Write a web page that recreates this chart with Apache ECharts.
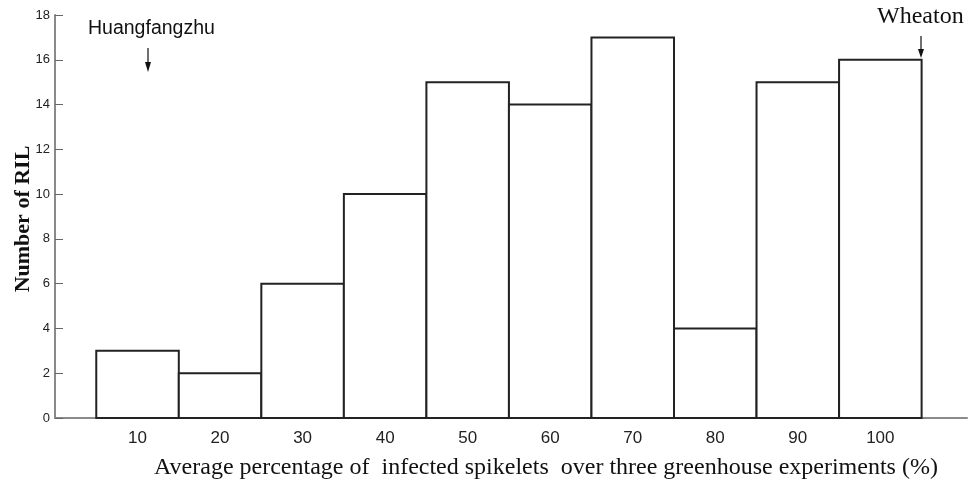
<!DOCTYPE html>
<html><head><meta charset="utf-8">
<script src="https://cdn.jsdelivr.net/npm/echarts@6/dist/echarts.min.js"></script>
<style>html,body{margin:0;padding:0;background:#fff}#c{width:969px;height:490px}</style>
</head><body><div id="c"></div>
<script>
const categories = [10, 20, 30, 40, 50, 60, 70, 80, 90, 100];
const counts = [3, 2, 6, 10, 15, 14, 17, 4, 15, 16];
const binWidth = 10;
const yTicks = [0, 2, 4, 6, 8, 10, 12, 14, 16, 18];
const yTitle = 'Number of RIL';
const xTitle = 'Average percentage of  infected spikelets  over three greenhouse experiments (%)';

const chart = echarts.init(document.getElementById('c'), null, {renderer: 'canvas'});
const data = categories.map((c, i) => [c, counts[i]]);

chart.setOption({
  backgroundColor: '#fff',
  animation: false,
  grid: {left: 55, right: 2, top: 15, bottom: 72, containLabel: false, outerBoundsMode: 'none'},
  xAxis: {
    type: 'value', min: 0, max: 110.5,
    axisLine: {show: true, lineStyle: {color: '#8a8a8a', width: 2}},
    axisTick: {show: false},
    splitLine: {show: false},
    axisLabel: {
      customValues: categories,
      color: '#222', fontFamily: 'Arial, Liberation Sans, sans-serif', fontSize: 17, margin: 12
    },
    name: xTitle,
    nameLocation: 'middle', nameGap: 38,
    nameTextStyle: {color: '#111', fontFamily: 'Liberation Serif, Times New Roman, serif', fontSize: 24, padding: [0, 0, 0, 70]}
  },
  yAxis: {
    type: 'value', min: 0, max: 18, interval: 2,
    axisLine: {show: true, lineStyle: {color: '#8a8a8a', width: 2}},
    axisTick: {show: true, inside: true, length: 8, lineStyle: {color: '#666', width: 1}},
    splitLine: {show: false},
    axisLabel: {
      color: '#222', fontFamily: 'Arial, Liberation Sans, sans-serif', fontSize: 13, margin: 5,
      formatter: v => yTicks.indexOf(v) >= 0 ? String(v) : ''
    }
  },
  series: [{
    type: 'custom',
    data: data,
    renderItem: function (params, api) {
      const x = api.value(0), y = api.value(1);
      const p0 = api.coord([x - binWidth / 2, 0]);
      const p1 = api.coord([x + binWidth / 2, y]);
      return {
        type: 'rect',
        shape: {x: p0[0], y: p1[1], width: p1[0] - p0[0], height: p0[1] - p1[1]},
        style: {fill: '#fff', stroke: '#222', lineWidth: 2}
      };
    }
  }],
  graphic: [
    {type: 'text', x: 23, y: 219, rotation: Math.PI / 2,
     style: {text: yTitle, font: 'bold 22px "Liberation Serif", "Times New Roman", serif', fill: '#111', textAlign: 'center', textVerticalAlign: 'middle'}},
    {type: 'text', left: 88, top: 19, style: {text: 'Huangfangzhu', font: '19.5px Arial, "Liberation Sans", sans-serif', fill: '#111'}},
    {type: 'line', shape: {x1: 148, y1: 48, x2: 148, y2: 68}, style: {stroke: '#111', lineWidth: 1.2}},
    {type: 'polygon', shape: {points: [[145, 62], [151, 62], [148, 72]]}, style: {fill: '#111'}},
    {type: 'text', left: 877, top: 5, style: {text: 'Wheaton', font: '24px "Liberation Serif", "Times New Roman", serif', fill: '#111'}},
    {type: 'line', shape: {x1: 921, y1: 36, x2: 921, y2: 54}, style: {stroke: '#111', lineWidth: 1.2}},
    {type: 'polygon', shape: {points: [[918, 49], [924, 49], [921, 58]]}, style: {fill: '#111'}}
  ]
});
</script></body></html>
